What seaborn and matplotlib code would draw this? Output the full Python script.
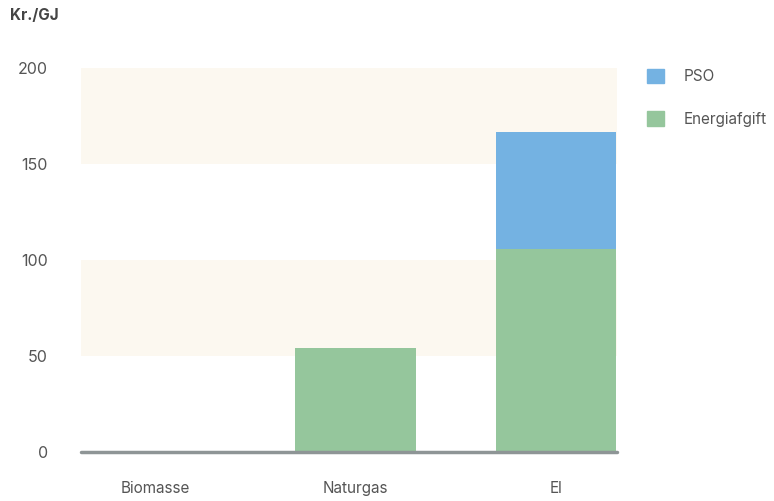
import matplotlib
matplotlib.use("Agg")
import matplotlib.pyplot as plt
import matplotlib.patches as mpatches
import seaborn as sns
import pandas as pd

categories = ["Biomasse", "Naturgas", "El"]
energiafgift = [0, 54, 105.5]
pso = [0, 0, 61]
series_names = ["PSO", "Energiafgift"]
y_ticks = [0, 50, 100, 150, 200]
y_label = "Kr./GJ"

sns.set_theme(style="white")
plt.rcParams['font.family'] = ['Inter', 'DejaVu Sans']

BLUE = "#74B2E2"
GREEN = "#95C69C"
BAND = "#FCF8F0"
TXT = "#555555"

df = pd.DataFrame({"kategori": categories, "Energiafgift": energiafgift, "PSO": pso})
df["total"] = df["Energiafgift"] + df["PSO"]

fig = plt.figure(figsize=(7.74, 5.01), dpi=100)
ax = fig.add_axes([81/774, 1-452/501, (617-81)/774, (452-68)/501])

# background bands
for lo, hi in [(50, 100), (150, 200)]:
    ax.axhspan(lo, hi, color=BAND, zorder=0, lw=0)

sns.barplot(data=df, x="kategori", y="total", color=BLUE, width=0.6,
            saturation=1, ax=ax, zorder=2, linewidth=0, edgecolor="none")
sns.barplot(data=df, x="kategori", y="Energiafgift", color=GREEN, width=0.6,
            saturation=1, ax=ax, zorder=3, linewidth=0, edgecolor="none")

ax.set_xlim(-0.37, 2.305)
ax.set_ylim(0, 200)
ax.set_yticks(y_ticks)
ax.set_yticklabels([str(t) for t in y_ticks])
ax.set_xlabel("")
ax.set_ylabel("")
for s in ax.spines.values():
    s.set_visible(False)
ax.axhline(0, color="#8E9596", lw=2.5, zorder=4, clip_on=False)
ax.tick_params(axis="y", length=0, pad=24, labelsize=11.5, labelcolor=TXT)
ax.tick_params(axis="x", length=0, pad=21, labelsize=11, labelcolor=TXT)
ax.grid(False)

fig.text(10/774, 1-16/501, y_label, fontsize=11, fontweight="bold",
         color="#444444", va="center", ha="left")

handles = [mpatches.Patch(color=BLUE, label=series_names[0]),
           mpatches.Patch(color=GREEN, label=series_names[1])]
leg = fig.legend(handles=handles, loc="upper left",
                 bbox_to_anchor=(633/774, 1-55/501), frameon=False,
                 fontsize=11, labelcolor=TXT, handlelength=1.1,
                 handleheight=1.1, handletextpad=1.3, labelspacing=1.75)

fig.savefig("out.png", dpi=100, facecolor="white")
